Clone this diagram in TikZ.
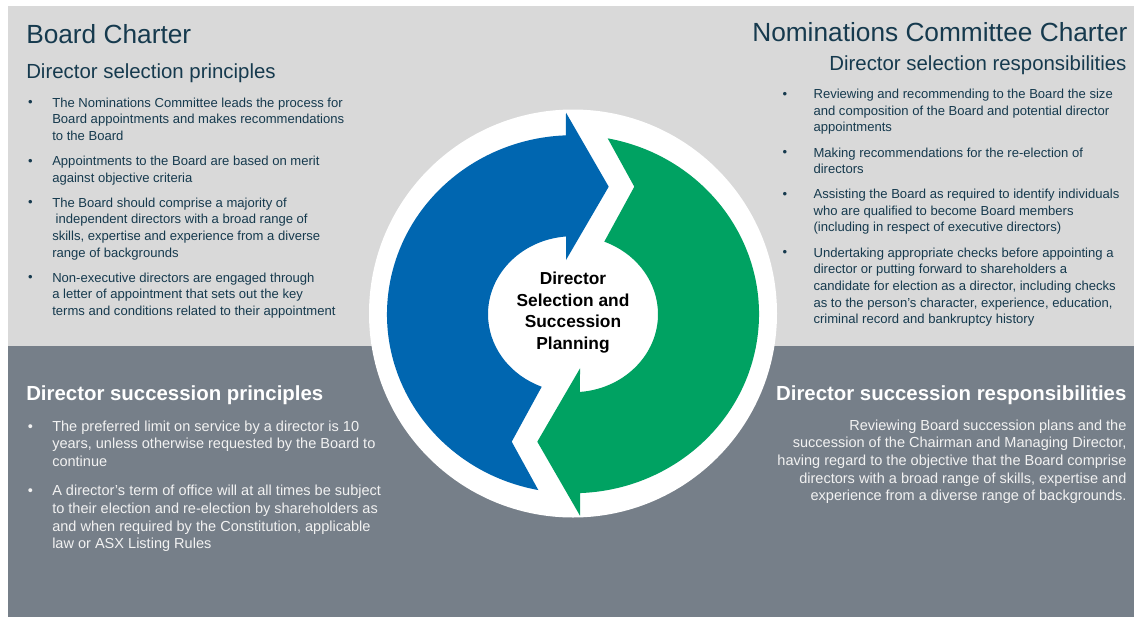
\documentclass[tikz,border=0pt]{standalone}
\usepackage{fontspec}
\setmainfont{Liberation Sans}
\definecolor{dslight}{HTML}{D9D9D9}
\definecolor{dsdark}{HTML}{767F89}
\definecolor{dsblue}{HTML}{0066B0}
\definecolor{dsgreen}{HTML}{00A262}
\definecolor{dsnavy}{HTML}{163A4E}
\definecolor{dspale}{HTML}{F2F2F2}
\begin{document}
\begin{tikzpicture}[x=0.75pt, y=-0.75pt,
  title/.style={font=\fontsize{19.7}{23}\selectfont, text=dsnavy, inner sep=0pt},
  subtitle/.style={font=\fontsize{15.3}{18}\selectfont, text=dsnavy, inner sep=0pt},
  topbody/.style={font=\fontsize{9.8}{12.5}\selectfont, text=dsnavy, inner sep=0pt, align=left, anchor=north west},
  topbullet/.style={font=\fontsize{9.8}{12.5}\selectfont, text=dsnavy, inner sep=0pt, anchor=base},
  bothead/.style={font=\bfseries\fontsize{15.3}{18}\selectfont, text=white, inner sep=0pt},
  botbody/.style={font=\fontsize{10.9}{13.2}\selectfont, text=dspale, inner sep=0pt, align=left, anchor=north west},
  botbullet/.style={font=\fontsize{10.9}{13.2}\selectfont, text=dspale, inner sep=0pt, anchor=base},
  centertext/.style={font=\bfseries\fontsize{13}{16.3}\selectfont, text=black, align=center, inner sep=0pt, anchor=north}
]
\useasboundingbox (0,0) rectangle (1134,621);
\fill[white] (0,0) rectangle (1134,621);
\fill[dslight] (8,6) rectangle (1134,346);
\fill[dsdark] (8,346) rectangle (1134,617);

% ring
\fill[white] (573,313.5) circle[radius=153pt];

% blue arrow
\begin{scope}[shift={(573,314.2)}]
\fill[dsblue] (-5.25pt,151.125pt) -- (26.775pt,95.625pt) -- (-5.25pt,40.65pt)
  -- (94.7:63.75pt and 58.5pt) arc[start angle=94.7, end angle=248.4, x radius=63.75pt, y radius=58.5pt]
  -- (-45.975pt,-95.625pt) -- (259.25:139.5pt and 134.25pt)
  arc[start angle=259.25, end angle=92.2, x radius=139.5pt, y radius=134.25pt] -- cycle;
\end{scope}
% green arrow
\begin{scope}[shift={(573,314.2)}, rotate=180]
\fill[dsgreen] (-5.25pt,151.125pt) -- (26.775pt,95.625pt) -- (-5.25pt,40.65pt)
  -- (94.7:63.75pt and 58.5pt) arc[start angle=94.7, end angle=248.4, x radius=63.75pt, y radius=58.5pt]
  -- (-45.975pt,-95.625pt) -- (259.25:139.5pt and 134.25pt)
  arc[start angle=259.25, end angle=92.2, x radius=139.5pt, y radius=134.25pt] -- cycle;
\end{scope}

\node[centertext] (center) at (573,271.5) {Director\\Selection and\\Succession\\Planning};

% top left
\node[title, anchor=base west] (bctitle) at (26,43.3) {Board Charter};
\node[subtitle, anchor=base west] (bcsub) at (26,78.7) {Director selection principles};
\node[topbullet] (tlb1) at (30.5,106.7) {•};
\node[topbody] (tlt1) at (52,97.3) {The Nominations Committee leads the process for\\Board appointments and makes recommendations\\to the Board};
\node[topbullet] (tlb2) at (30.5,165) {•};
\node[topbody] (tlt2) at (52,155.6) {Appointments to the Board are based on merit\\against objective criteria};
\node[topbullet] (tlb3) at (30.5,206.7) {•};
\node[topbody] (tlt3) at (52,197.3) {The Board should comprise a majority of\\\hspace{2.5pt}independent directors with a broad range of\\skills, expertise and experience from a diverse\\range of backgrounds};
\node[topbullet] (tlb4) at (30.5,281.7) {•};
\node[topbody] (tlt4) at (52,272.3) {Non-executive directors are engaged through\\a letter of appointment that sets out the key\\terms and conditions related to their appointment};

% top right
\node[title, anchor=base east] (nctitle) at (1127.7,41.7) {Nominations Committee Charter};
\node[subtitle, anchor=base east] (ncsub) at (1126.7,70) {Director selection responsibilities};
\node[topbullet] (trb1) at (785,98.3) {•};
\node[topbody] (trt1) at (813.3,88.9) {Reviewing and recommending to the Board the size\\and composition of the Board and potential director\\appointments};
\node[topbullet] (trb2) at (785,156.7) {•};
\node[topbody] (trt2) at (813.3,147.3) {Making recommendations for the re-election of\\directors};
\node[topbullet] (trb3) at (785,198.3) {•};
\node[topbody] (trt3) at (813.3,188.9) {Assisting the Board as required to identify individuals\\who are qualified to become Board members\\(including in respect of executive directors)};
\node[topbullet] (trb4) at (785,256.7) {•};
\node[topbody] (trt4) at (813.3,247.3) {Undertaking appropriate checks before appointing a\\director or putting forward to shareholders a\\candidate for election as a director, including checks\\as to the person’s character, experience, education,\\criminal record and bankruptcy history};

% bottom left
\node[bothead, anchor=base west] (sphead) at (26,400.7) {Director succession principles};
\node[botbullet] (blb1) at (30.5,431) {•};
\node[botbody] (blt1) at (52,420.5) {The preferred limit on service by a director is 10\\years, unless otherwise requested by the Board to\\continue};
\node[botbullet] (blb2) at (30.5,495.5) {•};
\node[botbody] (blt2) at (52,485) {A director’s term of office will at all times be subject\\to their election and re-election by shareholders as\\and when required by the Constitution, applicable\\law or ASX Listing Rules};

% bottom right
\node[bothead, anchor=base east] (srhead) at (1126.7,400) {Director succession responsibilities};
\node[botbody, align=right, anchor=north east] (srtext) at (1126.7,419.5) {Reviewing Board succession plans and the\\succession of the Chairman and Managing Director,\\having regard to the objective that the Board comprise\\directors with a broad range of skills, expertise and\\experience from a diverse range of backgrounds.};
\end{tikzpicture}
\end{document}
